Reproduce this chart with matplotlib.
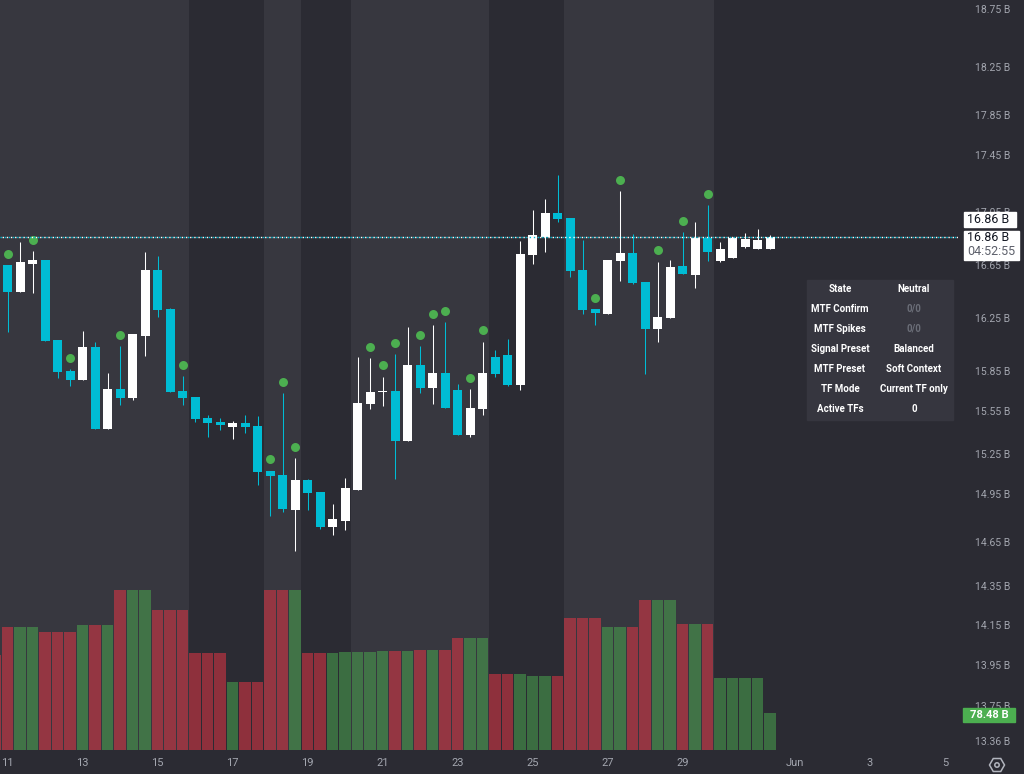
import numpy as np
import pandas as pd
import matplotlib
matplotlib.use("Agg")
import matplotlib.pyplot as plt
from matplotlib.patches import Rectangle, RegularPolygon, Circle
from matplotlib.transforms import IdentityTransform
from matplotlib.ticker import NullLocator

plt.rcParams["font.family"] = ["Roboto", "DejaVu Sans"]
plt.rcParams["lines.scale_dashes"] = False

# 8h candles, first one (index -1) starts May 10 16:00
START = pd.Timestamp("2025-05-11 00:00")
BAR = pd.Timedelta("8h")
idx = np.arange(-1, 62)

opens = [16.70, 16.65, 16.448, 16.66, 16.688, 16.084, 15.85, 15.785, 16.031, 15.427,
         15.715, 15.65, 16.117, 16.612, 16.318, 15.70, 15.655, 15.503, 15.475, 15.44,
         15.466, 15.445, 15.1225, 15.0925, 14.852, 15.055, 14.965, 14.746, 14.783, 14.982,
         15.605, 15.69, 15.70, 15.343, 15.895, 15.725, 15.835, 15.708, 15.385, 15.568,
         15.956, 15.971, 15.745, 16.726, 16.861, 17.042, 17.005, 16.612, 16.318, 16.28,
         16.68, 16.741, 16.522, 16.167, 16.25, 16.642, 16.575, 16.854, 16.68, 16.703,
         16.786, 16.771, 16.771]
highs = [16.75, 16.65, 16.824, 16.756, 16.688, 16.084, 15.865, 16.152, 16.069, 15.835,
         16.039, 16.129, 16.748, 16.718, 16.325, 15.813, 15.655, 15.522, 15.503, 15.48,
         15.522, 15.515, 15.1225, 15.685, 15.22, 15.0625, 14.965, 14.8875, 15.07, 15.956,
         15.948, 15.805, 15.978, 16.182, 16.039, 16.197, 16.22, 15.753, 15.715, 16.069,
         16.009, 16.092, 16.831, 17.064, 17.141, 17.31, 17.005, 16.839, 16.318, 16.688,
         17.197, 16.884, 16.522, 16.673, 16.688, 16.899, 16.975, 17.099, 16.824, 16.861,
         16.891, 16.922, 16.876]
lows = [16.55, 16.147, 16.448, 16.441, 16.079, 15.80, 15.74, 15.783, 15.427, 15.427,
        15.597, 15.635, 15.966, 16.26, 15.695, 15.597, 15.475, 15.371, 15.42, 15.357,
        15.399, 15.02, 14.814, 14.839, 14.591, 14.852, 14.733, 14.696, 14.727, 14.982,
        15.568, 15.59, 15.065, 15.343, 15.688, 15.605, 15.575, 15.385, 15.371, 15.524,
        15.807, 15.738, 15.708, 16.658, 16.748, 16.975, 16.559, 16.28, 16.197, 16.28,
        16.529, 16.507, 15.828, 16.069, 16.25, 16.582, 16.476, 16.68, 16.673, 16.703,
        16.778, 16.771, 16.771]
closes = [16.62, 16.448, 16.673, 16.688, 16.079, 15.845, 15.785, 16.031, 15.427, 15.715,
          15.65, 16.129, 16.612, 16.313, 15.695, 15.65, 15.496, 15.468, 15.454, 15.466,
          15.44, 15.117, 15.087, 14.856, 15.055, 14.96, 14.746, 14.794, 14.995, 15.61,
          15.693, 15.70, 15.343, 15.895, 15.725, 15.835, 15.575, 15.385, 15.573, 15.835,
          15.83, 15.745, 16.733, 16.876, 17.042, 16.997, 16.605, 16.31, 16.288, 16.688,
          16.741, 16.514, 16.167, 16.258, 16.635, 16.582, 16.854, 16.748, 16.771, 16.854,
          16.846, 16.839, 16.86]
volumes = [201.5, 260.9, 260.9, 260.9, 250.3, 250.3, 250.3, 265.1, 265.1, 265.1,
           339.3, 339.3, 339.3, 296.9, 296.9, 296.9, 205.7, 205.7, 205.7, 144.2,
           144.2, 144.2, 339.3, 339.3, 339.3, 205.7, 205.7, 205.7, 207.8, 207.8,
           207.8, 210.0, 210.0, 210.0, 212.1, 212.1, 212.1, 237.5, 237.5, 237.5,
           161.2, 161.2, 161.2, 156.9, 156.9, 156.9, 280.0, 280.0, 280.0, 260.9,
           260.9, 260.9, 318.1, 318.1, 318.1, 267.2, 267.2, 267.2, 152.7, 152.7,
           152.7, 152.7, 78.48]

# signal dots (candle index, price)
dot_idx = [0, 2, 5, 9, 14, 21, 22, 23, 29, 30, 31, 33, 34, 35, 37, 38, 47, 49, 52, 54, 56]
dot_price = [16.733, 16.839, 15.948, 16.122, 15.897, 15.21, 15.77, 15.299, 16.031, 15.893,
             16.061, 16.119, 16.282, 16.305, 15.80, 16.157, 16.403, 17.275, 16.761, 16.982,
             17.176]

# lighter session regimes (candle index ranges)
light_spans = [(-1, 14), (21, 23), (28, 38), (45, 56)]

tick_dates = ["2025-05-11", "2025-05-13", "2025-05-15", "2025-05-17", "2025-05-19",
              "2025-05-21", "2025-05-23", "2025-05-25", "2025-05-27", "2025-05-29",
              "2025-06-01", "2025-06-03", "2025-06-05"]
tick_labels = ["11", "13", "15", "17", "19", "21", "23", "25", "27", "29", "Jun", "3", "5"]

price_ticks = [13.36, 13.75, 13.95, 14.15, 14.35, 14.65, 14.95, 15.25, 15.55, 15.85,
               16.25, 16.65, 17.05, 17.45, 17.85, 18.25, 18.75]
last_price = 16.86
last_volume = 78.48

table_rows = [("State", "Neutral"), ("MTF Confirm", "0/0"), ("MTF Spikes", "0/0"),
              ("Signal Preset", "Balanced"), ("MTF Preset", "Soft Context"),
              ("TF Mode", "Current TF only"), ("Active TFs", "0")]

# the price scale of the screenshot is not linear: anchor it on its labels
tick_px = [741, 706, 665, 625, 586, 542, 494, 454, 411, 371, 318, 265, 212, 155, 115, 67, 9]
anchor_p = np.array([10.0] + price_ticks + [22.0])
anchor_y = -np.array([1077] + tick_px + [-368], dtype=float)


def fwd(p):
    return np.interp(np.asarray(p, dtype=float), anchor_p, anchor_y)


def inv(y):
    return np.interp(np.asarray(y, dtype=float), anchor_y, anchor_p)


DARK = "#2b2b33"
LIGHT = "#37373f"
UP = "#ffffff"
DOWN = "#00bcd4"
TXT = "#a3a6af"

o = np.array(opens)
c = np.array(closes)
up = c >= o
cols = np.where(up, UP, DOWN)
vcols = [(0.298, 0.686, 0.314, 0.5) if u else (0.949, 0.212, 0.271, 0.5) for u in up]

fig = plt.figure(figsize=(10.24, 7.74), dpi=100, facecolor=DARK)
ax = fig.add_axes([0, 24 / 774, 958 / 1024, 750 / 774])
ax.set_facecolor(DARK)
ax.set_yscale("function", functions=(fwd, inv))
ax.set_xlim(-0.6, 76.04)
ax.set_ylim(float(inv(-750)), float(inv(0)))

for a, b in light_spans:
    ax.axvspan(a - 0.5, b + 0.5, color=LIGHT, lw=0, zorder=0)

ax.vlines(idx, lows, highs, colors=cols, linewidth=0.75, zorder=2)
ax.bar(idx, np.maximum(np.abs(c - o), 0.004), bottom=np.minimum(o, c), width=0.72,
       color=cols, linewidth=0, zorder=2)
ax.scatter(dot_idx, dot_price, s=42, color="#4caf50", linewidths=0, zorder=3)

ax.axhline(last_price, color=DOWN, lw=1.0, ls=(0, (1.0, 2.0)), zorder=3)
ax.axhline(last_price, color="white", lw=1.0, ls=(1.5, (1.0, 2.0)), zorder=3)

vax = ax.twinx()
vax.bar(idx, volumes, width=0.9, color=vcols, linewidth=0)
vax.set_ylim(0, 1590)
vax.set_yticks([])

for a_ in (ax, vax):
    for s in a_.spines.values():
        s.set_visible(False)

ax.yaxis.tick_right()
ax.set_yticks(price_ticks, [f"{p:.2f} B" for p in price_ticks])
ax.yaxis.set_minor_locator(NullLocator())
tick_pos = [(pd.Timestamp(d) - START) / BAR for d in tick_dates]
ax.set_xticks(tick_pos, tick_labels)
ax.tick_params(axis="y", length=0, pad=12, labelsize=7.5, labelcolor=TXT)
ax.tick_params(axis="x", length=0, pad=6, labelsize=8, labelcolor=TXT)

# right-hand price / volume labels (pixel space)
pix = IdentityTransform()
y_last = ax.transData.transform((0, last_price))[1]
fig.add_artist(Rectangle((964, y_last + 10), 52, 15, transform=pix, color="white", zorder=5))
fig.add_artist(Rectangle((964, y_last - 23), 55, 29, transform=pix, color="white", zorder=5))
fig.text(967, y_last + 17.5, f"{last_price:.2f} B", transform=pix, va="center", ha="left",
         fontsize=9, color="#131722", zorder=6)
fig.text(967, y_last, f"{last_price:.2f} B", transform=pix, va="center", ha="left",
         fontsize=9, color="#131722", zorder=6)
fig.text(967, y_last - 14, "04:52:55", transform=pix, va="center", ha="left",
         fontsize=9, color="#5d606b", zorder=6)

y_vol = vax.transData.transform((0, last_volume))[1]
fig.add_artist(Rectangle((963, y_vol - 9), 52, 14, transform=pix, color="#4caf50", zorder=5))
fig.text(989, y_vol - 2, f"{last_volume:.2f} B", transform=pix, va="center", ha="center",
         fontsize=8, fontweight="bold", color="white", zorder=6)

# status table
fig.add_artist(Rectangle((807, 774 - 420), 146, 140, transform=pix, color="#36363f", zorder=4))
for k, (name, val) in enumerate(table_rows):
    yy = 774 - 289 - 20 * k
    fig.text(840, yy, name, transform=pix, ha="center", va="center", fontsize=7,
             fontweight="bold", color="white", zorder=6)
    fig.text(914, yy, val, transform=pix, ha="center", va="center", fontsize=7,
             fontweight="bold", color="#6b6e78" if val == "0/0" else "white", zorder=6)

# settings icon
fig.add_artist(RegularPolygon((997, 9), numVertices=6, radius=7.5, orientation=np.pi / 6,
                              transform=pix, fill=False, edgecolor="#b2b5be", lw=1.1))
fig.add_artist(Circle((997, 9), 2.2, transform=pix, fill=False, edgecolor="#b2b5be", lw=1.1))

fig.savefig("out.png", dpi=100, facecolor=DARK)
